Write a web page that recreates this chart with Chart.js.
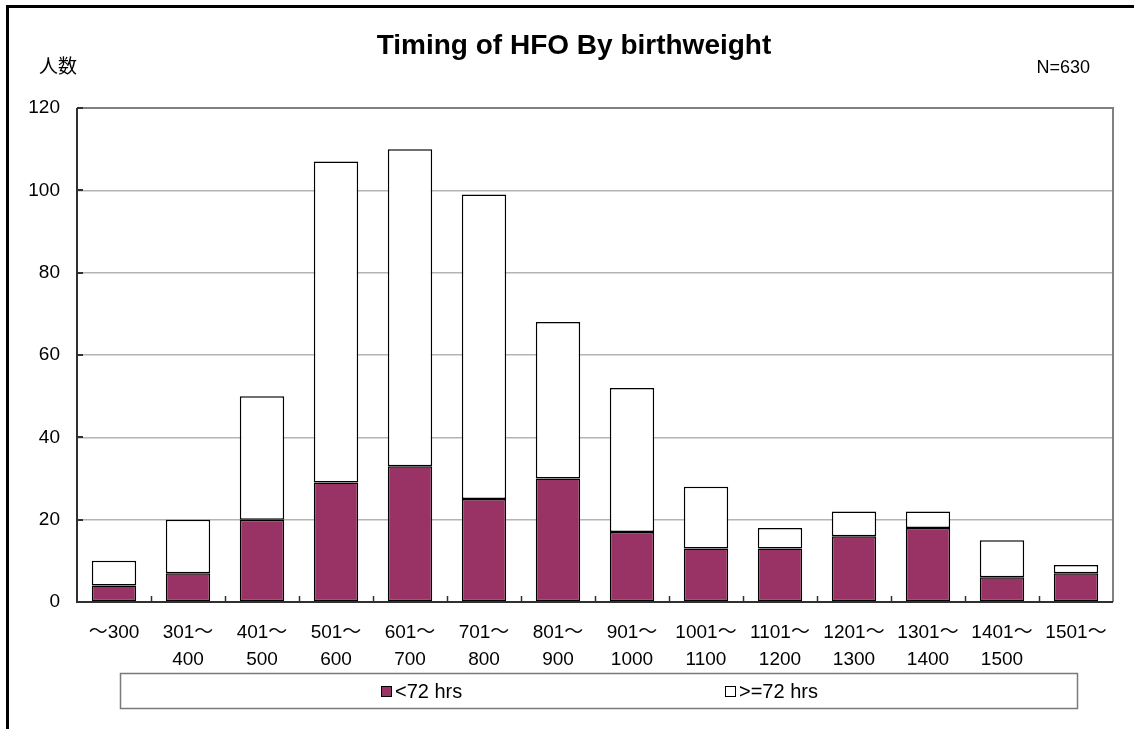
<!DOCTYPE html>
<html>
<head>
<meta charset="utf-8">
<script src="https://cdn.jsdelivr.net/npm/chart.js@4.4.0/dist/chart.umd.min.js"></script>
<style>
html,body{margin:0;padding:0;background:#fff;}
#wrap{position:relative;width:1134px;height:729px;}
</style>
</head>
<body>
<div id="wrap"><canvas id="c" width="1134" height="729"></canvas></div>
<script>
const categories = [
  "〜300", ["301〜","400"], ["401〜","500"], ["501〜","600"], ["601〜","700"],
  ["701〜","800"], ["801〜","900"], ["901〜","1000"], ["1001〜","1100"],
  ["1101〜","1200"], ["1201〜","1300"], ["1301〜","1400"], ["1401〜","1500"], "1501〜"
];
const under72 = [4, 7, 20, 29, 33, 25, 30, 17, 13, 13, 16, 18, 6, 7];
const over72  = [6, 13, 30, 78, 77, 74, 38, 35, 15, 5, 6, 4, 9, 2];
const seriesNames = ["<72 hrs", ">=72 hrs"];
const seriesColors = ["#993366", "#ffffff"];
const titleText = "Timing of HFO By birthweight";
const yAxisLabel = "人数";
const noteText = "N=630";
const yMax = 120, yStep = 20;

const FONT = '"Liberation Sans", Arial, "Noto Sans CJK JP", sans-serif';

const decor = {
  id: 'decor',
  afterDraw(chart) {
    const ctx = chart.ctx;
    const ca = chart.chartArea;
    const xs = chart.scales.x, ys = chart.scales.y;
    ctx.save();
    // plot frame top & right
    ctx.strokeStyle = '#808080';
    ctx.lineWidth = 2;
    ctx.beginPath();
    ctx.moveTo(ca.left, ca.top); ctx.lineTo(ca.right, ca.top); ctx.lineTo(ca.right, ca.bottom);
    ctx.stroke();
    // axes
    ctx.strokeStyle = '#303030';
    ctx.lineWidth = 2;
    ctx.beginPath();
    ctx.moveTo(ca.left, ca.top); ctx.lineTo(ca.left, ca.bottom); ctx.lineTo(ca.right, ca.bottom);
    ctx.stroke();
    // y ticks inward
    ctx.beginPath();
    for (let v = 0; v <= yMax; v += yStep) {
      const y = Math.round(ys.getPixelForValue(v));
      ctx.moveTo(ca.left, y); ctx.lineTo(ca.left + 6, y);
    }
    ctx.stroke();
    // x ticks upward at category boundaries
    ctx.lineWidth = 1.5;
    ctx.beginPath();
    for (let i = 0; i < categories.length - 1; i++) {
      const xb = Math.round((xs.getPixelForTick(i) + xs.getPixelForTick(i + 1)) / 2) + 0.5;
      ctx.moveTo(xb, ca.bottom); ctx.lineTo(xb, ca.bottom - 6);
    }
    ctx.stroke();
    // outer frame
    ctx.strokeStyle = '#000';
    ctx.lineWidth = 3;
    ctx.beginPath();
    ctx.moveTo(7.5, 729); ctx.lineTo(7.5, 6.5); ctx.lineTo(1134, 6.5);
    ctx.stroke();
    // title
    ctx.fillStyle = '#000';
    ctx.textAlign = 'center';
    ctx.textBaseline = 'middle';
    ctx.font = 'bold 28px ' + FONT;
    ctx.fillText(titleText, 574, 46);
    // axis unit label
    ctx.font = '19px ' + FONT;
    ctx.textAlign = 'left';
    ctx.fillText(yAxisLabel, 39, 68);
    // N note
    ctx.font = '18px ' + FONT;
    ctx.textAlign = 'right';
    ctx.fillText(noteText, 1090, 68);
    // legend box
    ctx.strokeStyle = '#7a7a7a';
    ctx.lineWidth = 1.5;
    ctx.strokeRect(120.5, 673.5, 957, 35);
    const items = [
      {x: 381, name: seriesNames[0], color: seriesColors[0]},
      {x: 725, name: seriesNames[1], color: seriesColors[1]}
    ];
    ctx.font = '20px ' + FONT;
    ctx.textAlign = 'left';
    items.forEach(it => {
      ctx.fillStyle = it.color;
      ctx.fillRect(it.x, 686, 11, 11);
      ctx.strokeStyle = '#000';
      ctx.lineWidth = 1;
      ctx.strokeRect(it.x + 0.5, 686.5, 10, 10);
      ctx.fillStyle = '#000';
      ctx.fillText(it.name, it.x + 14, 692);
    });
    ctx.restore();
  }
};

new Chart(document.getElementById('c'), {
  type: 'bar',
  data: {
    labels: categories,
    datasets: [
      {label: seriesNames[0], data: under72, backgroundColor: seriesColors[0], borderColor: '#000', borderWidth: 1.5, borderSkipped: false},
      {label: seriesNames[1], data: over72, backgroundColor: seriesColors[1], borderColor: '#000', borderWidth: 1.5, borderSkipped: false}
    ]
  },
  options: {
    responsive: false,
    animation: false,
    events: [],
    layout: {padding: {left: 0, top: 108, right: 21, bottom: 0}},
    datasets: {bar: {barPercentage: 0.6, categoryPercentage: 1.0}},
    plugins: {legend: {display: false}, title: {display: false}, tooltip: {enabled: false}},
    scales: {
      x: {
        stacked: true,
        offset: true,
        grid: {display: false, drawTicks: false},
        border: {display: false},
        ticks: {color: '#000', padding: 17, maxRotation: 0, autoSkip: false, font: {family: FONT, size: 19, lineHeight: 1.42}},
        afterFit(s) { s.height = 127; }
      },
      y: {
        stacked: true,
        min: 0, max: yMax,
        grid: {color: '#b4b4b4', lineWidth: 1.5, drawTicks: false},
        border: {display: false},
        ticks: {stepSize: yStep, color: '#000', padding: 17, font: {family: FONT, size: 19}},
        afterFit(s) { s.width = 77; }
      }
    }
  },
  plugins: [decor]
});
</script>
</body>
</html>
